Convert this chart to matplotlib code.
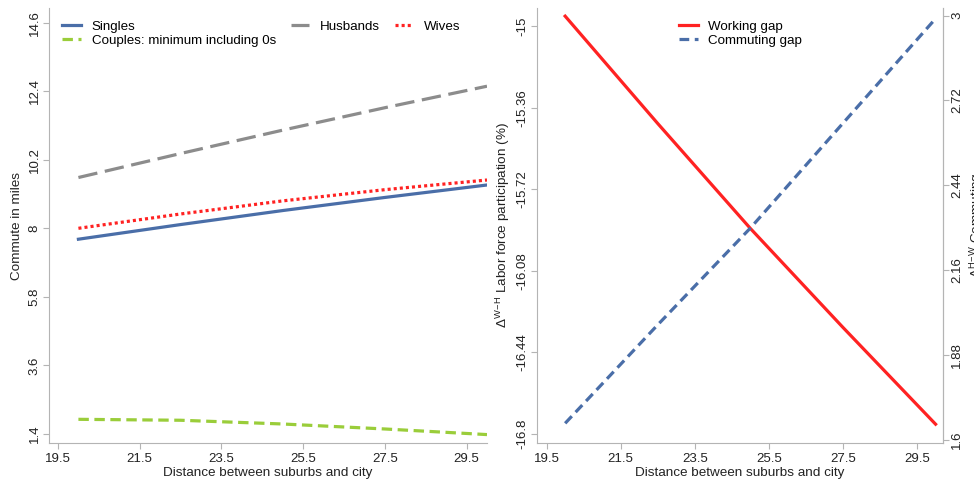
import numpy as np
import matplotlib.pyplot as plt

plt.rcParams['font.family'] = ['Liberation Sans', 'DejaVu Sans']
plt.rcParams['mathtext.fontset'] = 'custom'
plt.rcParams['mathtext.rm'] = 'Liberation Sans'
plt.rcParams['mathtext.it'] = 'Liberation Sans'
plt.rcParams['lines.scale_dashes'] = False

# distance between suburbs and city
dist = [20, 22.5, 25, 27.5, 30]

# left panel: commute in miles
singles = [7.65, 8.12, 8.57, 8.99, 9.39]
husbands = [9.63, 10.40, 11.15, 11.87, 12.56]
wives = [8.00, 8.46, 8.88, 9.24, 9.55]
couples_min = [1.87, 1.84, 1.72, 1.56, 1.38]

# right panel: gaps
working_gap = [-14.956, -15.43, -15.893, -16.33, -16.757]
commuting_gap = [1.655, 1.98, 2.299, 2.645, 2.99]

xticks = [19.5, 21.5, 23.5, 25.5, 27.5, 29.5]
yticks_l = [1.4, 3.6, 5.8, 8, 10.2, 12.4, 14.6]
yticks_wg = [-16.8, -16.44, -16.08, -15.72, -15.36, -15]
yticks_cg = [1.6, 1.88, 2.16, 2.44, 2.72, 3]

blue = '#4a6ea8'
gray = '#8c8c8c'
red = '#ff2222'
green = '#9acd3a'
spine_c = '#b4b4b4'
txt = '#222222'

W, H = 974, 482
fig = plt.figure(figsize=(W / 100, H / 100), dpi=100)


def style(ax, right=False):
    for s in ['top', 'right']:
        ax.spines[s].set_visible(False)
    for s in ['left', 'bottom']:
        ax.spines[s].set_color(spine_c)
    if right:
        ax.spines['right'].set_visible(True)
        ax.spines['right'].set_color(spine_c)
    ax.tick_params(colors=spine_c, labelcolor=txt, labelsize=9.5, length=4, width=0.8)
    ax.tick_params(axis='y', labelrotation=90, pad=2)
    for lab in ax.get_yticklabels():
        lab.set_va('center')


# ---- left panel
ax1 = fig.add_axes([49 / W, (H - 443) / H, (487 - 49) / W, (443 - 8) / H])
ax1.plot(dist, singles, color=blue, lw=2.3, label='Singles')
ax1.plot(dist, couples_min, color=green, lw=2.3, dashes=(7.5, 4), label='Couples: minimum including 0s')
ax1.plot(dist, husbands, color=gray, lw=2.3, dashes=(14, 5.5), label='Husbands')
ax1.plot(dist, wives, color=red, lw=2.3, dashes=(2.2, 2.2), label='Wives')
ax1.set_xlim(19.28, 30.0)
ax1.set_ylim(1.11, 15.07)
ax1.set_xticks(xticks)
ax1.set_xticklabels([str(v) for v in xticks])
ax1.set_yticks(yticks_l)
ax1.set_yticklabels([f'{v:g}' for v in yticks_l])
style(ax1)
ax1.set_xlabel('Distance between suburbs and city', fontsize=9.7, color=txt, labelpad=1)
ax1.set_ylabel('Commute in miles', fontsize=9.7, color=txt, labelpad=4)
ax1.legend(loc='upper left', bbox_to_anchor=(0.012, 0.99), ncol=3, frameon=False,
           fontsize=9.6, handlelength=1.4, handletextpad=0.8, columnspacing=1.1,
           labelspacing=0.15, borderaxespad=0.2)

# ---- right panel
ax2 = fig.add_axes([537 / W, (H - 443) / H, (943 - 537) / W, (443 - 8) / H])
l1, = ax2.plot(dist, working_gap, color=red, lw=2.3, label='Working gap')
ax2.set_xlim(19.24, 30.2)
ax2.set_ylim(-16.84, -14.92)
ax2.set_xticks(xticks)
ax2.set_xticklabels([str(v) for v in xticks])
ax2.set_yticks(yticks_wg)
ax2.set_yticklabels([f'{v:g}' for v in yticks_wg])
style(ax2, right=True)
ax2.set_xlabel('Distance between suburbs and city', fontsize=9.7, color=txt, labelpad=1)
ax2.set_ylabel(r'$\Delta^{\mathregular{W\!-\!H}}$ Labor force participation (%)', fontsize=9.7,
               color=txt, labelpad=3)

ax3 = ax2.twinx()
l2, = ax3.plot(dist, commuting_gap, color=blue, lw=2.3, dashes=(7, 4), label='Commuting gap')
ax3.set_ylim(1.59, 3.025)
ax3.set_yticks(yticks_cg)
ax3.set_yticklabels([f'{v:g}' for v in yticks_cg])
for s in ['top', 'left', 'bottom']:
    ax3.spines[s].set_visible(False)
ax3.spines['right'].set_color(spine_c)
ax3.tick_params(colors=spine_c, labelcolor=txt, labelsize=9.5, length=4, width=0.8)
ax3.tick_params(axis='y', labelrotation=90, pad=2)
for lab in ax3.get_yticklabels():
    lab.set_va('center')
# the reference shows this label running off the right edge of the figure
ax3.set_ylabel(r'$\Delta^{\mathregular{H\!-\!W}}$ Commuting', fontsize=9.7, color=txt,
               rotation=90, labelpad=3)

ax2.legend(handles=[l1, l2], loc='upper left', bbox_to_anchor=(0.33, 0.99), frameon=False,
           fontsize=9.6, handlelength=1.4, handletextpad=0.8, labelspacing=0.15, borderaxespad=0.2)

fig.savefig('out.png', dpi=100)
